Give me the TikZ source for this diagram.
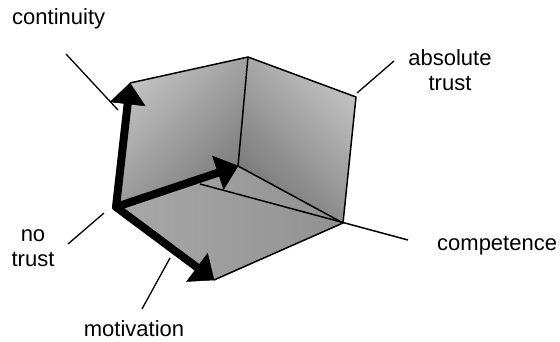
\documentclass[tikz,border=0pt]{standalone}
\usepackage{fontspec}
\setmainfont{Liberation Sans}
\usetikzlibrary{calc}
\begin{document}
\begin{tikzpicture}[x=1pt,y=-1pt,
  lbl/.style={font=\fontsize{22}{25}\selectfont, inner sep=0pt, align=center},
  edge/.style={line width=1.5pt, line join=round},
  leader/.style={line width=1.3pt},
  shaft/.style={line width=8pt, line cap=round},
  head/.style={fill=black, draw=black, line width=0.5pt, line join=miter}]
\useasboundingbox (0,0) rectangle (560,342);
% corners
\coordinate (O) at (116,207);
\coordinate (A) at (130,83);
\coordinate (B) at (248,57);
\coordinate (C) at (356,97);
\coordinate (D) at (343,223);
\coordinate (E) at (238,166);
\coordinate (F) at (214,280);
\coordinate (P) at (200,184);
\coordinate (Q) at (408,240);
% faces
\shade[top color=black!24, bottom color=black!52, shading angle=45] (O) -- (A) -- (B) -- (E) -- cycle;
\shade[top color=black!24, bottom color=black!54, shading angle=-45] (E) -- (B) -- (C) -- (D) -- cycle;
\shade[left color=black!34, right color=black!43] (O) -- (E) -- (D) -- (F) -- cycle;
% edges
\draw[edge] (A) -- (B) -- (C) -- (D) -- (F);
\draw[edge] (B) -- (E) -- (D);
\draw[edge] (P) -- (Q);
% leaders
\coordinate (l1a) at (66,54);   \coordinate (l1b) at (118,110);
\coordinate (l2a) at (357,93);  \coordinate (l2b) at (394,61);
\coordinate (l3a) at (68,244);  \coordinate (l3b) at (104,213);
\coordinate (l4a) at (142,309); \coordinate (l4b) at (170,258);
\draw[leader] (l1a) -- (l1b);
\draw[leader] (l2a) -- (l2b);
\draw[leader] (l3a) -- (l3b);
\draw[leader] (l4a) -- (l4b);
% axes: shafts
\draw[shaft] (O) -- ($(A)!17pt!(O)$);
\draw[shaft] (O) -- ($(E)!17pt!(O)$);
\draw[shaft] (O) -- ($(F)!17pt!(O)$);
% axes: heads
\foreach \t in {A,E,F}{
  \coordinate (m) at ($(\t)!21pt!(O)$);
  \fill[head] (\t) -- ($(m)!17.5pt!90:(\t)$) -- ($(m)!17.5pt!-90:(\t)$) -- cycle;
}
% labels
\node[lbl, anchor=base west] (cont) at (12,25) {continuity};
\node[lbl, anchor=base] (abs) at (450,91) {absolute\\trust};
\node[lbl, anchor=base west] (comp) at (437,251) {competence};
\node[lbl, anchor=base] (none) at (33,266) {no\\trust};
\node[lbl, anchor=base] (mot) at (134,336) {motivation};
\end{tikzpicture}
\end{document}
